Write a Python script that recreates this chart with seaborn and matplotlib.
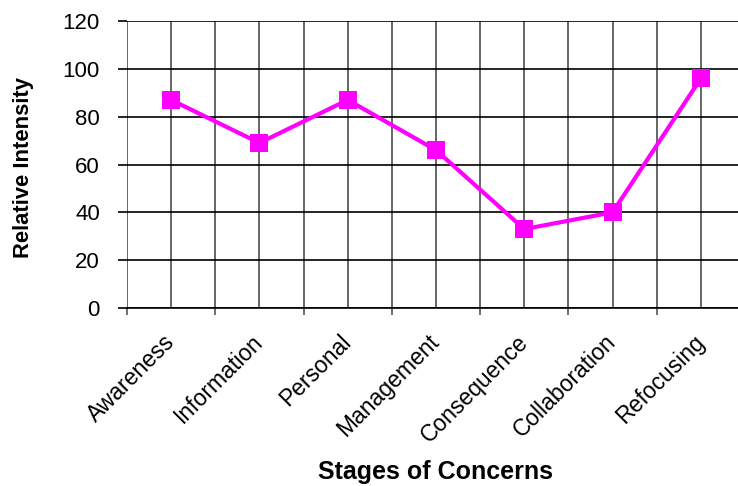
import matplotlib
matplotlib.use("Agg")
import matplotlib.pyplot as plt
from matplotlib.ticker import FixedLocator
import seaborn as sns
import pandas as pd

stages = ["Awareness", "Information", "Personal", "Management",
          "Consequence", "Collaboration", "Refocusing"]
intensity = [87, 69, 87, 66, 33, 40, 96]
y_ticks = [0, 20, 40, 60, 80, 100, 120]

sns.set_theme(style="white")
plt.rcParams["font.family"] = ["Liberation Sans", "DejaVu Sans"]
plt.rcParams["text.color"] = "black"
plt.rcParams["xtick.labelcolor"] = "black"
plt.rcParams["ytick.labelcolor"] = "black"

df = pd.DataFrame({"Stage": stages, "Intensity": intensity})
df["pos"] = range(len(stages))

fig = plt.figure(figsize=(7.38, 4.86), dpi=100)
ax = fig.add_axes([127 / 738, 178 / 486, 618 / 738, 287 / 486])

sns.lineplot(data=df, x="pos", y="Intensity", ax=ax, color="#FF00FF",
             linewidth=3.0, marker="s", markersize=13, markeredgewidth=0,
             sort=False, zorder=5)

n = len(stages)
ax.set_xlim(-0.5, n - 0.5)
ax.set_ylim(0, 120)

# category centres carry the labels, category boundaries carry tick marks
ax.xaxis.set_major_locator(FixedLocator(list(range(n))))
ax.xaxis.set_minor_locator(FixedLocator([i - 0.5 for i in range(n + 1)]))
ax.set_xticklabels(stages, rotation=45, ha="right", va="center",
                   rotation_mode="anchor", fontsize=16.5, color="black")
ax.tick_params(axis="x", which="major", length=0, pad=22)
ax.tick_params(axis="x", which="minor", length=5, width=1.2,
               color="#555555", direction="out", bottom=True)

ax.set_yticks(y_ticks)
ax.set_yticklabels([str(v) for v in y_ticks], fontsize=16, color="black")
ax.tick_params(axis="y", length=6.5, width=1.2, color="black",
               direction="out", left=True, pad=13)

ax.grid(axis="x", which="both", color="#666666", linewidth=1.4)
ax.grid(axis="y", which="major", color="black", linewidth=1.2)
ax.set_axisbelow(True)

for side in ["top", "right", "left"]:
    ax.spines[side].set_visible(False)
ax.spines["bottom"].set_color("black")
ax.spines["bottom"].set_linewidth(1.2)

ax.set_xlabel("")
ax.set_ylabel("")
fig.text(24 / 738, 1 - 167 / 486, "Relative Intensity", rotation=90,
         ha="center", va="center", fontsize=15.8, fontweight="bold",
         color="black")
fig.text(435 / 738, 1 - 472 / 486, "Stages of Concerns",
         ha="center", va="center", fontsize=18, fontweight="bold",
         color="black")

fig.savefig("out.png", dpi=100)
